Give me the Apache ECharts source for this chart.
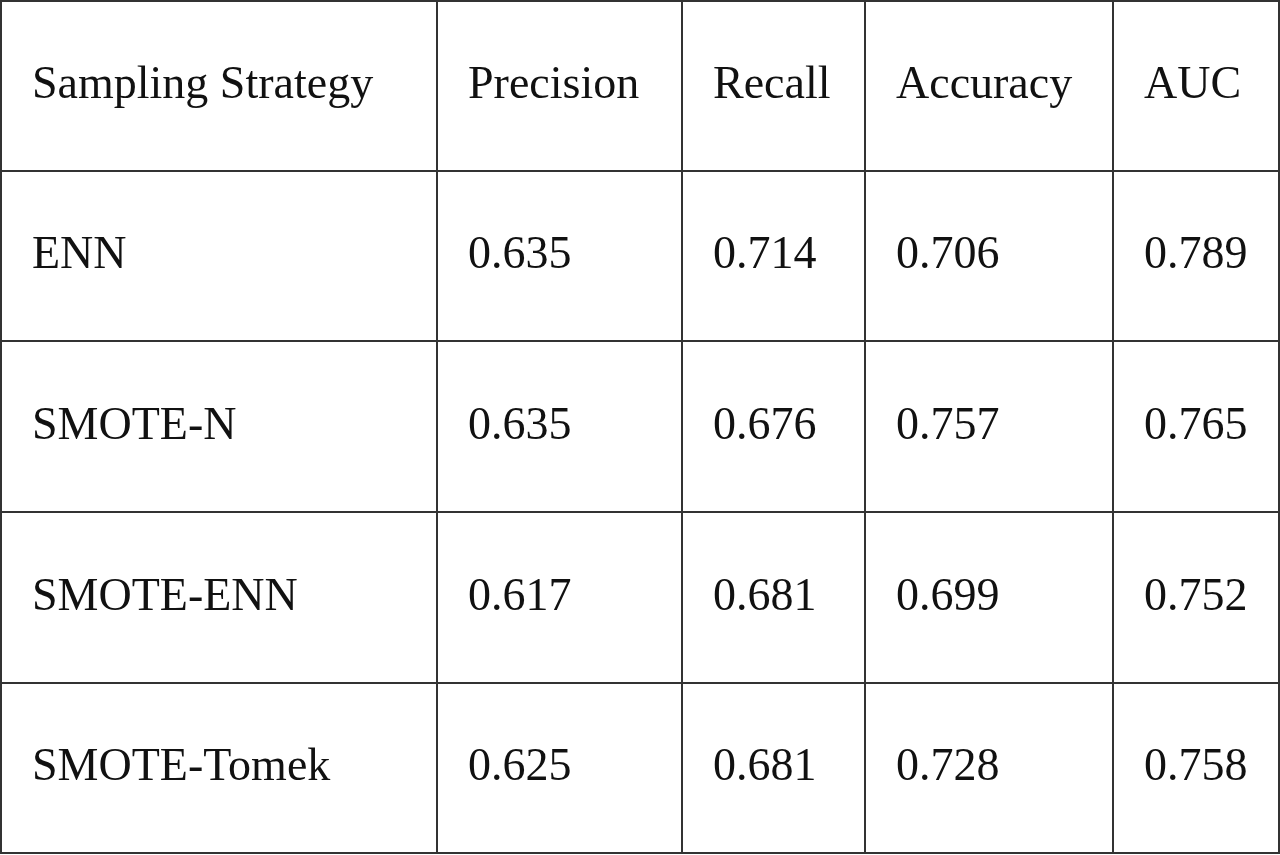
<!DOCTYPE html>
<html><head><meta charset="utf-8">
<script src="https://cdn.jsdelivr.net/npm/echarts@6/dist/echarts.min.js"></script>
<style>html,body{margin:0;padding:0;background:#fff}#c{width:1280px;height:855px}</style>
</head><body><div id="c"></div>
<script>
const headers = ["Sampling Strategy","Precision","Recall","Accuracy","AUC"];
const strategies = ["ENN","SMOTE-N","SMOTE-ENN","SMOTE-Tomek"];
const precision = ["0.635","0.635","0.617","0.625"];
const recall = ["0.714","0.676","0.681","0.681"];
const accuracy = ["0.706","0.757","0.699","0.728"];
const auc = ["0.789","0.765","0.752","0.758"];

// layout (pixel edges)
const colEdges = [1,437,682,865,1113,1279];
const rowEdges = [1,171,341,512,683,853];

const rows = [headers];
strategies.forEach((s,i)=>rows.push([s,precision[i],recall[i],accuracy[i],auc[i]]));
const data = [];
rows.forEach((r,ri)=>r.forEach((t,ci)=>data.push([ci,ri,t])));

const chart = echarts.init(document.getElementById('c'));
chart.setOption({
  animation:false,
  grid:{left:0,right:0,top:0,bottom:0},
  xAxis:{type:'value',min:0,max:1280,show:false},
  yAxis:{type:'value',min:0,max:855,inverse:true,show:false},
  series:[{
    type:'custom',
    data:data,
    renderItem:function(params,api){
      const ci=api.value(0), ri=api.value(1);
      const t=data[params.dataIndex][2];
      const p0=api.coord([colEdges[ci],rowEdges[ri]]);
      const p1=api.coord([colEdges[ci+1],rowEdges[ri+1]]);
      return {type:'group',children:[
        {type:'rect',shape:{x:p0[0],y:p0[1],width:p1[0]-p0[0],height:p1[1]-p0[1]},
         style:{fill:'#fff',stroke:'#333',lineWidth:2}},
        {type:'text',style:{text:t,x:p0[0]+31,y:(p0[1]+p1[1])/2,
          verticalAlign:'middle',align:'left',
          font:'46px "Liberation Serif", "DejaVu Serif", serif',fill:'#111'}}
      ]};
    }
  }]
});
</script></body></html>
